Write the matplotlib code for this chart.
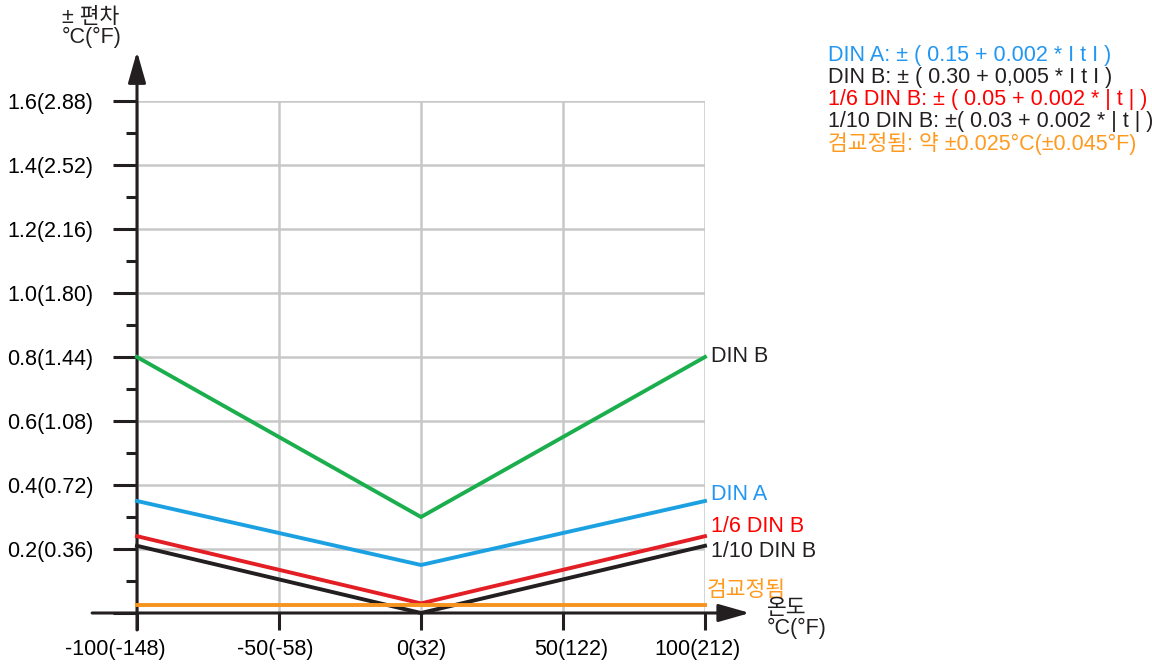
import matplotlib
matplotlib.use('Agg')
import matplotlib.pyplot as plt
from matplotlib.transforms import ScaledTranslation

plt.rcParams['font.family'] = ['Liberation Sans', 'Noto Sans CJK KR']

# data
temps = [-100, 0, 100]
din_b = [0.80, 0.30, 0.80]
din_a = [0.35, 0.15, 0.35]
sixth_din_b = [0.24, 0.03, 0.24]
tenth_din_b = [0.21, 0.00, 0.21]
calibrated = [0.025, 0.025, 0.025]

x_ticks = [-100, -50, 0, 50, 100]
x_labels = ['-100(-148)', '-50(-58)', '0(32)', '50(122)', '100(212)']
y_ticks = [0, 0.2, 0.4, 0.6, 0.8, 1.0, 1.2, 1.4, 1.6]
y_labels = ['', '0.2(0.36)', '0.4(0.72)', '0.6(1.08)', '0.8(1.44)',
            '1.0(1.80)', '1.2(2.16)', '1.4(2.52)', '1.6(2.88)']
y_minor = [0.1, 0.3, 0.5, 0.7, 0.9, 1.1, 1.3, 1.5]

legend_lines = ['DIN A: ± ( 0.15 + 0.002 * I t I )',
                'DIN B: ± ( 0.30 + 0,005 * I t I )',
                '1/6 DIN B: ± ( 0.05 + 0.002 * | t | )',
                '1/10 DIN B: ±( 0.03 + 0.002 * | t | )',
                '검교정됨: 약 ±0.025°C(±0.045°F)']

AXIS = '#231f20'
GRID = '#c8c8c8'
FS = 15.5
W, H = 1152, 665

fig = plt.figure(figsize=(W / 100, H / 100), dpi=100)
ax = fig.add_axes([137 / W, 1 - 613 / H, 568 / W, 512 / H])
ax.set_xlim(-100, 100)
ax.set_ylim(0, 1.6)
for s in ax.spines.values():
    s.set_visible(False)

ax.set_xticks(x_ticks)
ax.set_xticklabels(x_labels)
ax.set_yticks(y_ticks)
ax.set_yticklabels(y_labels)
ax.set_yticks(y_minor, minor=True)
ax.tick_params(axis='y', which='major', length=17, width=2.2, color=AXIS,
               pad=14.5, labelsize=FS)
ax.tick_params(axis='y', which='minor', length=8, width=2.2, color=AXIS)
ax.tick_params(axis='x', length=12, width=2.2, color=AXIS, pad=7, labelsize=FS)
ax.grid(True, which='major', color=GRID, lw=1.8)
ax.set_axisbelow(True)

# small shifts of the x labels as in the original
shifts = [-22, -4, 0, 8, -8]
for lab, dx in zip(ax.get_xticklabels(), shifts):
    lab.set_transform(lab.get_transform() + ScaledTranslation(dx / 100, 0, fig.dpi_scale_trans))

# axes with arrows
arrow = dict(arrowstyle='-|>,head_length=0.95,head_width=0.27', lw=2.2,
             color=AXIS, mutation_scale=20, shrinkA=0, shrinkB=0)
ax.annotate('', xy=(-100, 1.755), xytext=(-100, -0.053), arrowprops=arrow,
            annotation_clip=False)
ax.annotate('', xy=(115.8, 0), xytext=(-115.8, 0), arrowprops=arrow,
            annotation_clip=False)

series = [
    (din_b, '#1aae4c', 'DIN B', AXIS, 0),
    (din_a, '#1ba1e2', 'DIN A', '#2196f3', 7),
    (sixth_din_b, '#e31e24', '1/6 DIN B', '#ff0000', 10),
    (tenth_din_b, AXIS, '1/10 DIN B', AXIS, -6),
    (calibrated, '#f7941d', '검교정됨', '#ff9a1e', 14),
]
for vals, col, name, tcol, dy in series:
    ax.plot(temps, vals, color=col, lw=2.8, clip_on=False, zorder=3,
            solid_joinstyle='miter')
    ax.annotate(name, xy=(temps[-1], vals[-1]), xytext=(4 if name != '검교정됨' else 1.5, dy * 0.72),
                textcoords='offset points', ha='left', va='center',
                fontsize=FS, color=tcol, annotation_clip=False)

# axis titles
fig.text(62 / W, 1 - 7 / H, '± 편차\n°C(°F)', ha='left', va='top',
         fontsize=FS, color=AXIS, linespacing=0.9)
fig.text(767 / W, 1 - 598 / H, '온도\n°C(°F)', ha='left', va='top',
         fontsize=FS, color=AXIS, linespacing=0.9)

# formula legend
legend_colors = ['#2196f3', AXIS, '#ff0000', AXIS, '#ff9a1e']
legend_y = [55, 77, 100, 122, 144]
for txt, col, yy in zip(legend_lines, legend_colors, legend_y):
    fig.text(828 / W, 1 - yy / H, txt, ha='left', va='center',
             fontsize=FS, color=col)

fig.savefig('out.png', dpi=100)
